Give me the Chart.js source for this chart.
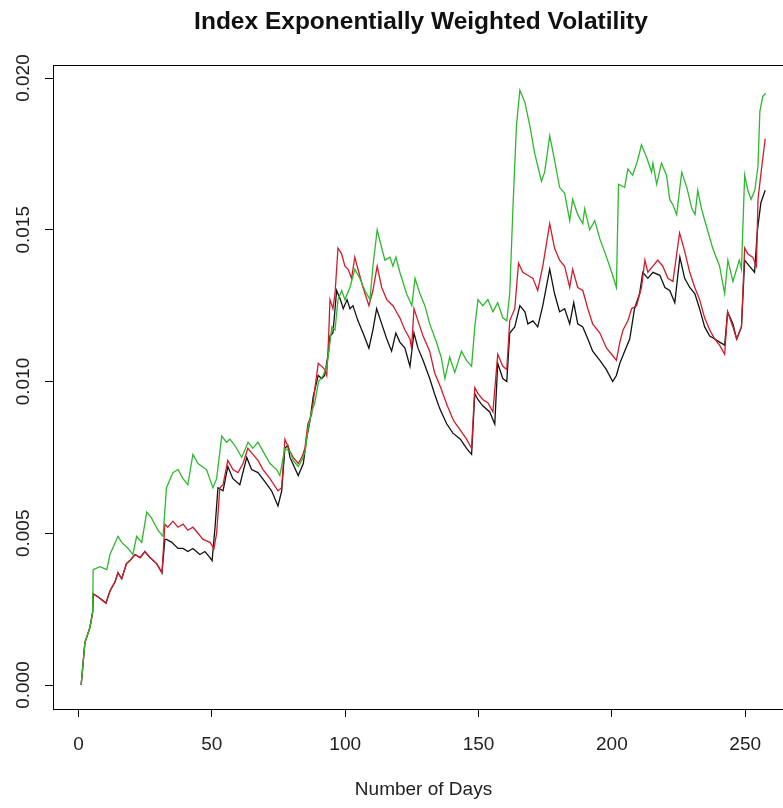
<!DOCTYPE html>
<html>
<head>
<meta charset="utf-8">
<script src="https://cdn.jsdelivr.net/npm/chart.js@4"></script>
<style>
  html, body { margin: 0; padding: 0; background: #fff; overflow: hidden; }
  #wrap { width: 783px; height: 808px; overflow: hidden; }
</style>
</head>
<body>
<div id="wrap"><canvas id="volChart" width="842" height="808"></canvas></div>
<script>
// axis ticks
const xTicks = [0, 50, 100, 150, 200, 250];
const yTicks = [0, 0.005, 0.010, 0.015, 0.020];

// black series (day, volatility) - vertices
const blackDays = [1, 2.4, 4.3, 5.3, 5.5, 7.4, 10.3, 11.8, 13.7, 14.8, 16.2, 18, 19.3, 21.2, 23.1, 24.9, 26.8, 29.3, 31.3,
  32.4, 33, 35, 37.3, 39.2, 41, 42.9, 45.5, 47.4, 49.3, 50.1, 51.2, 52.3, 54.2, 56, 57.9, 60.5, 63.1, 64.9, 67.3, 69.9,
  72.4, 74.8, 76.2, 77.4, 78.5, 79.3, 82.4, 84.3, 85.5, 86.8, 88, 89.9, 91.2, 92.3, 93.8, 94.3, 95.4, 96.8, 98.2, 99.3,
  100.7, 101.8, 102.9, 104.8, 106.7, 108.9, 110.4, 111.8, 113.7, 115.6, 117.4, 119, 120.5, 122.4, 124.3, 125.8, 127.3,
  129.2, 131.7, 133.5, 135.5, 138.1, 140.4, 143.2, 145.5, 147.4, 148.6, 149.8, 151.6, 154.2, 156.1, 157.2, 159.1, 160.6,
  161.7, 163.6, 165.5, 167.4, 168.5, 170.4, 172.2, 174.1, 176.7, 178.5, 180.4, 182.3, 184.2, 185.7, 187.2, 189.1, 191,
  192.8, 195.5, 197.9, 200.3, 201.7, 203, 204.8, 206.7, 208.5, 210.4, 211.6, 213.5, 215.4, 218, 219.9, 221.7, 223.6,
  225.5, 227.3, 229.2, 231.1, 232.9, 234.8, 236.7, 238.6, 240.4, 242.3, 243.4, 245.4, 246.8, 248.6, 249.8, 251.6, 253.5,
  254.6, 255.9, 257.5];
const blackVals = [0, 0.0014, 0.0019, 0.0024, 0.0030, 0.0029, 0.0027, 0.0031, 0.0034, 0.0037, 0.0035, 0.0040, 0.0041,
  0.0043, 0.0042, 0.0044, 0.0042, 0.0040, 0.0037,
  0.0048, 0.0048, 0.0047, 0.0045, 0.0045, 0.0044, 0.0045, 0.0043, 0.0044, 0.0042, 0.0041, 0.0052, 0.0065, 0.0064, 0.0072,
  0.0068, 0.0066, 0.0075, 0.0071, 0.0070, 0.0067,
  0.0064, 0.0059, 0.0064, 0.0078, 0.0079, 0.0075, 0.0069, 0.0073, 0.0081, 0.0087, 0.0095, 0.0102, 0.0101, 0.0102, 0.0110,
  0.0115, 0.0116, 0.0130, 0.0127, 0.0124,
  0.0127, 0.0124, 0.0125, 0.0120, 0.0116, 0.0111, 0.0117, 0.0124, 0.0119, 0.0114, 0.0110, 0.0116, 0.0113, 0.0111, 0.0105,
  0.0116, 0.0111,
  0.0107, 0.0101, 0.0096, 0.0091, 0.0086, 0.0083, 0.0081, 0.0078, 0.0076, 0.0096, 0.0094, 0.0092, 0.0090, 0.0086, 0.0106,
  0.0101, 0.0100,
  0.0116, 0.0118, 0.0125, 0.0123, 0.0119, 0.0120, 0.0118, 0.0125, 0.0137, 0.0129, 0.0123, 0.0124, 0.0119, 0.0126, 0.0119,
  0.0118, 0.0114,
  0.0110, 0.0107, 0.0104, 0.0100, 0.0102, 0.0106, 0.0110, 0.0114, 0.0124, 0.0129, 0.0136, 0.0134, 0.0136, 0.0135, 0.0131,
  0.0130, 0.0126,
  0.0141, 0.0134, 0.0131, 0.0129, 0.0124, 0.0118, 0.0115, 0.0114, 0.0113, 0.0112, 0.0123, 0.0119, 0.0114, 0.0118, 0.0140,
  0.0138, 0.0136,
  0.0150, 0.0159, 0.0163];

// red series
const redDays = [1, 2.4, 4.3, 5.3, 5.5, 7.4, 10.3, 11.8, 13.7, 14.8, 16.2, 18, 19.3, 21.2, 23.1, 24.9, 26.8, 29.3, 31.3,
  32.4, 33.5, 35.4, 37.3, 39.2, 41, 42.9, 44.8, 46.7, 49.3, 50.8, 51.8, 53, 54.2, 56, 57.9, 59.8, 61.7, 63.5, 65.4, 67.3,
  69.2, 71.8, 74.8, 76.2, 77.4, 79.3, 80.5, 82.4, 83.7, 84.9, 86, 87.4, 88.7, 89.9, 91.2, 92.3, 93.1, 93.8, 94.3, 95.4,
  96.2, 97.3, 98.7, 99.9, 101.1, 102.4, 103.6, 104.8, 106.7, 108.9, 110.4, 112, 113.7, 115.6, 117.9, 119.2, 120.5, 122.4,
  124.3, 124.9, 125.8, 127.3, 129.2, 131.7, 133.5, 135.8, 138.3, 140.7, 143.2, 145.5, 147.4, 148.6, 149.8, 151.7, 153.5,
  155.4, 157.2, 159.1, 160.6, 161.7, 163.6, 165, 166.6, 168.5, 170.4, 172.2, 174.1, 176.7, 178.5, 180.4, 182.3, 184.2,
  185.3, 187.2, 189.1, 191, 192.8, 195.5, 198, 199.9, 201.7, 203, 204.2, 206, 207.4, 209.3, 211.1, 212.4, 213.5, 215.4,
  217.2, 219.1, 221, 222.9, 225.4, 227.3, 229.2, 231.1, 232.9, 234.8, 236.7, 238.6, 240.4, 242.3, 243.4, 245.4, 246.8,
  248.6, 249.8, 251, 252.8, 254.2, 254.8, 256.1, 257.5];
const redVals = [0, 0.0014, 0.0019, 0.0024, 0.0030, 0.0029, 0.0027, 0.0031, 0.0034, 0.0037, 0.0035, 0.0040, 0.0041,
  0.0043, 0.0042, 0.0044, 0.0042, 0.0040, 0.0037,
  0.0053, 0.0052, 0.0054, 0.0052, 0.0053, 0.0051, 0.0052, 0.0050, 0.0048, 0.0047, 0.0045, 0.0050, 0.0065, 0.0066, 0.0074,
  0.0071, 0.0070, 0.0073, 0.0078, 0.0076, 0.0074,
  0.0071, 0.0068, 0.0064, 0.0065, 0.0081, 0.0077, 0.0075, 0.0073, 0.0075, 0.0078, 0.0086, 0.0089, 0.0098, 0.0106, 0.0105,
  0.0104, 0.0102, 0.0115, 0.0127, 0.0124,
  0.0129, 0.0144, 0.0142, 0.0138, 0.0137, 0.0134, 0.0141, 0.0137, 0.0131, 0.0125, 0.0130, 0.0138, 0.0131, 0.0127, 0.0125,
  0.0123, 0.0121, 0.0117,
  0.0114, 0.0111, 0.0124, 0.0120, 0.0115, 0.0110, 0.0103, 0.0098, 0.0092, 0.0087, 0.0084, 0.0081, 0.0078, 0.0098, 0.0096,
  0.0094, 0.0093,
  0.0090, 0.0109, 0.0105, 0.0104, 0.0120, 0.0124, 0.0139, 0.0136, 0.0135, 0.0134, 0.0130, 0.0138, 0.0152, 0.0144, 0.0140,
  0.0138, 0.0131,
  0.0137, 0.0131, 0.0130, 0.0124, 0.0119, 0.0116, 0.0111, 0.0109, 0.0107, 0.0113, 0.0117, 0.0120, 0.0124, 0.0125, 0.0131,
  0.0140, 0.0136, 0.0138,
  0.0140, 0.0138, 0.0134, 0.0133, 0.0149, 0.0143, 0.0136, 0.0131, 0.0127, 0.0121, 0.0117, 0.0114, 0.0112, 0.0109, 0.0123,
  0.0118, 0.0114,
  0.0118, 0.0144, 0.0142, 0.0141, 0.0138, 0.0160, 0.0170, 0.0180];

// green series
const greenDays = [1, 2.4, 4.3, 5.3, 5.5, 8, 10.6, 11.8, 14.8, 16.2, 18.6, 20.4, 21.8, 23.7, 25.6, 27.4, 29.8, 31.7, 33,
  35.4, 37.3, 39.2, 41, 42.9, 44.8, 48, 50.4, 51.8, 53.7, 55.5, 56.8, 58.6, 61.2, 63.6, 65.4, 67.3, 69.2, 71.8, 74.3, 75.5,
  77.4, 79.3, 80.5, 82.4, 83.7, 85, 86, 87.4, 88.6, 90, 91.8, 93.3, 95, 96.2, 97.3, 98.7, 99.9, 101.8, 103.6, 105.5, 107.4,
  109.3, 110.4, 112, 113.7, 114.9, 116.8, 117.9, 119, 120.5, 123, 125, 126.2, 128, 129.9, 131.7, 134.2, 136, 137.4, 139.2,
  141.1, 143.6, 145.5, 147.4, 148.6, 149.8, 151.6, 153.5, 155.4, 157.2, 159.1, 160.6, 161.7, 162.9, 164.2, 165.5, 167.4,
  169.3, 171.1, 173.6, 174.8, 176.7, 178.5, 180.4, 182.3, 184.2, 185.3, 187.2, 189.1, 189.8, 191.7, 193.6, 195.5, 198,
  200.3, 201.7, 202.5, 204.8, 206, 207.8, 209.7, 211.1, 213, 214.9, 215.4, 216.8, 218.6, 220.5, 221.7, 223, 224.3, 226.2,
  228.1, 230, 231.2, 232.2, 233.6, 235.5, 237.8, 240.4, 242.3, 243.5, 245.4, 247.8, 248.6, 249.8, 251, 252.2, 253.6, 254.8,
  255.5, 256.6, 257.7];
const greenVals = [0, 0.0014, 0.0019, 0.0024, 0.0038, 0.0039, 0.0038, 0.0043, 0.0049, 0.0047, 0.0045, 0.0043, 0.0049,
  0.0047, 0.0057, 0.0055, 0.0051, 0.0049, 0.0065,
  0.0070, 0.0071, 0.0068, 0.0066, 0.0076, 0.0073, 0.0071, 0.0065, 0.0068, 0.0082, 0.0080, 0.0081, 0.0079, 0.0075, 0.0080,
  0.0078, 0.0080, 0.0077, 0.0073, 0.0071, 0.0069,
  0.0078, 0.0077, 0.0074, 0.0072, 0.0074, 0.0077, 0.0084, 0.0090, 0.0093, 0.0100, 0.0102, 0.0106, 0.0118, 0.0117, 0.0127,
  0.0130, 0.0127, 0.0131, 0.0137, 0.0134, 0.0130,
  0.0127, 0.0138, 0.0150, 0.0144, 0.0140, 0.0141, 0.0138, 0.0141, 0.0136, 0.0129, 0.0125, 0.0134, 0.0129, 0.0125, 0.0119,
  0.0113, 0.0108, 0.0101, 0.0108,
  0.0103, 0.0110, 0.0107, 0.0105, 0.0118, 0.0127, 0.0125, 0.0127, 0.0123, 0.0126, 0.0121, 0.0120, 0.0129, 0.0157, 0.0184,
  0.0196, 0.0192,
  0.0184, 0.0175, 0.0166, 0.0169, 0.0181, 0.0173, 0.0164, 0.0162, 0.0153, 0.0160, 0.0155, 0.0152, 0.0157, 0.0150, 0.0153,
  0.0147, 0.0141,
  0.0135, 0.0131, 0.0165, 0.0164, 0.0170, 0.0168, 0.0173, 0.0178, 0.0174, 0.0169, 0.0172, 0.0165, 0.0172, 0.0168, 0.0160,
  0.0158, 0.0155, 0.0169,
  0.0164, 0.0157, 0.0155, 0.0163, 0.0157, 0.0151, 0.0144, 0.0138, 0.0129, 0.0140, 0.0133, 0.0140, 0.0137, 0.0168, 0.0163,
  0.0160, 0.0163, 0.0171,
  0.0189, 0.0194, 0.0195];

function toPoints(days, vals) {
  return days.map((d, i) => ({ x: d, y: vals[i] }));
}

const boxPlugin = {
  id: "box",
  afterDraw(chart) {
    const a = chart.chartArea;
    const c = chart.ctx;
    c.save();
    c.strokeStyle = "#000";
    c.lineWidth = 1;
    c.strokeRect(Math.round(a.left) + 0.5, Math.round(a.top) + 0.5, a.right - a.left, a.bottom - a.top);
    c.restore();
  }
};

const font = { family: "'Liberation Sans', Arial, sans-serif", size: 19 };

new Chart(document.getElementById("volChart"), {
  type: "line",
  data: {
    datasets: [
      { label: "green", data: toPoints(greenDays, greenVals), borderColor: "#2eb82e", borderWidth: 1.3, pointRadius: 0, tension: 0, order: 0 },
      { label: "red", data: toPoints(redDays, redVals), borderColor: "#d01c2a", borderWidth: 1.3, pointRadius: 0, tension: 0, order: 1 },
      { label: "black", data: toPoints(blackDays, blackVals), borderColor: "#111111", borderWidth: 1.3, pointRadius: 0, tension: 0, order: 2 }
    ]
  },
  options: {
    responsive: false,
    animation: false,
    devicePixelRatio: 1,
    layout: { padding: 0 },
    plugins: {
      legend: { display: false },
      tooltip: { enabled: false },
      title: {
        display: true,
        text: "Index Exponentially Weighted Volatility",
        color: "#111",
        font: { family: "'Liberation Sans', Arial, sans-serif", size: 24.5, weight: "bold" },
        padding: { top: 8, bottom: 27.6 }
      }
    },
    scales: {
      x: {
        type: "linear",
        min: -9.56,
        max: 268.3,
        afterBuildTicks: s => { s.ticks = xTicks.map(v => ({ value: v })); },
        afterFit: s => { s.height = 99; },
        ticks: { color: "#222", font: font, padding: 16, maxRotation: 0 },
        grid: { drawOnChartArea: false, drawTicks: true, tickLength: 8, color: "#000" },
        border: { display: true, color: "#000", width: 1 },
        title: { display: true, text: "Number of Days", color: "#222", font: font, padding: { top: 0, bottom: 7 } }
      },
      y: {
        type: "linear",
        min: -0.00079,
        max: 0.02043,
        afterBuildTicks: s => { s.ticks = yTicks.map(v => ({ value: v })); },
        afterFit: s => { s.width = 53; },
        ticks: {
          color: "#222", font: font, padding: -3, minRotation: 90, maxRotation: 90, crossAlign: "center",
          callback: v => v.toFixed(3)
        },
        grid: { drawOnChartArea: false, drawTicks: true, tickLength: 8, color: "#000" },
        border: { display: true, color: "#000", width: 1 }
      },
      // empty right margin so the plot box ends past the visible edge
      spacer: {
        type: "linear",
        position: "right",
        afterFit: s => { s.width = 48; },
        ticks: { display: false },
        grid: { display: false },
        border: { display: false }
      }
    }
  },
  plugins: [boxPlugin]
});
</script>
</body>
</html>
